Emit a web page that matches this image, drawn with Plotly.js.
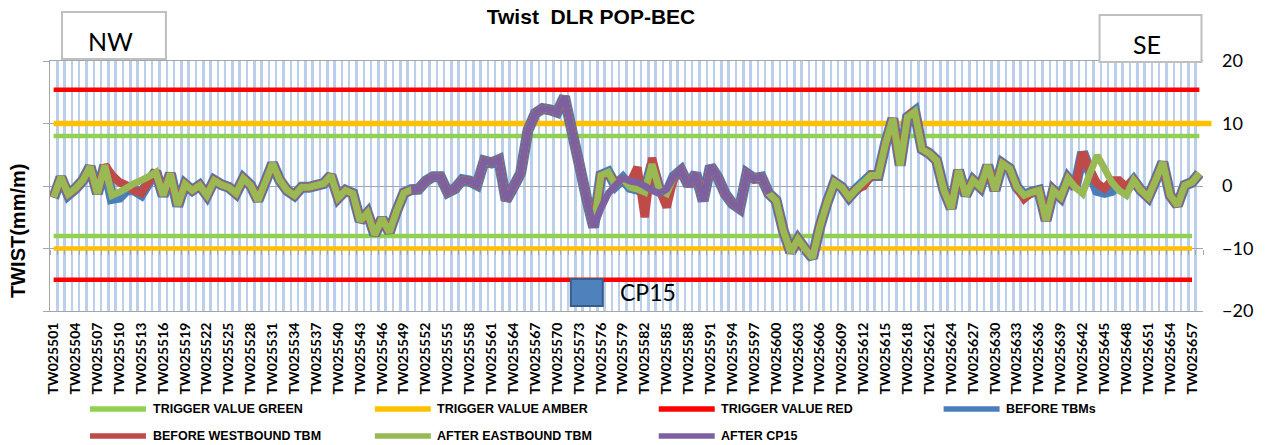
<!DOCTYPE html>
<html><head><meta charset="utf-8">
<script src="https://cdn.plot.ly/plotly-3.0.1.min.js"></script>
<style>html,body{margin:0;padding:0;background:#fff}#chart{width:1265px;height:445px}</style>
</head><body><div id="chart"></div>
<script>
const categories = [
"TW025501","TW025502","TW025503","TW025504","TW025505","TW025506","TW025507","TW025508","TW025509","TW025510",
"TW025511","TW025512","TW025513","TW025514","TW025515","TW025516","TW025517","TW025518","TW025519","TW025520",
"TW025521","TW025522","TW025523","TW025524","TW025525","TW025526","TW025527","TW025528","TW025529","TW025530",
"TW025531","TW025532","TW025533","TW025534","TW025535","TW025536","TW025537","TW025538","TW025539","TW025540",
"TW025541","TW025542","TW025543","TW025544","TW025545","TW025546","TW025547","TW025548","TW025549","TW025550",
"TW025551","TW025552","TW025553","TW025554","TW025555","TW025556","TW025557","TW025558","TW025559","TW025560",
"TW025561","TW025562","TW025563","TW025564","TW025565","TW025566","TW025567","TW025568","TW025569","TW025570",
"TW025571","TW025572","TW025573","TW025574","TW025575","TW025576","TW025577","TW025578","TW025579","TW025580",
"TW025581","TW025582","TW025583","TW025584","TW025585","TW025586","TW025587","TW025588","TW025589","TW025590",
"TW025591","TW025592","TW025593","TW025594","TW025595","TW025596","TW025597","TW025598","TW025599","TW025600",
"TW025601","TW025602","TW025603","TW025604","TW025605","TW025606","TW025607","TW025608","TW025609","TW025610",
"TW025611","TW025612","TW025613","TW025614","TW025615","TW025616","TW025617","TW025618","TW025619","TW025620",
"TW025621","TW025622","TW025623","TW025624","TW025625","TW025626","TW025627","TW025628","TW025629","TW025630",
"TW025631","TW025632","TW025633","TW025634","TW025635","TW025636","TW025637","TW025638","TW025639","TW025640",
"TW025641","TW025642","TW025643","TW025644","TW025645","TW025646","TW025647","TW025648","TW025649","TW025650",
"TW025651","TW025652","TW025653","TW025654","TW025655","TW025656","TW025657","TW025658"];

const beforeTBMs = [
-1.9,1.4,-1.4,-0.4,0.9,3.1,-1.2,3.3,-2.0,-1.8,
-0.6,-0.6,-1.3,0.6,2.3,-1.6,2.0,-3.2,0.3,-0.7,
0.1,-1.5,0.9,0.2,-0.2,-1.2,1.2,0.1,-2.3,0.6,
3.6,0.9,-0.7,-1.5,-0.2,-0.2,0.1,0.4,1.7,-1.9,
-0.7,-1.2,-5.6,-4.3,-7.8,-5.2,-7.4,-4.0,-1.1,-0.6,
-0.5,0.8,1.5,1.5,-1.0,-0.4,1.0,0.8,0.2,4.0,
3.7,4.2,-2.3,-0.2,2.1,8.9,11.6,12.4,12.2,11.8,
14.3,8.9,3.6,-1.8,-6.6,1.7,2.2,0.1,1.2,-0.2,
-0.5,-1.0,3.5,-0.5,-1.2,1.5,2.5,0.1,2.0,-2.4,
3.2,1.4,-1.2,-2.8,-3.6,2.0,1.2,1.4,-1.2,-2.3,
-7.2,-10.6,-8.5,-10.1,-11.5,-6.5,-2.6,0.6,-0.2,-1.8,
-0.5,0.6,1.7,1.7,6.8,10.8,3.3,11.0,11.9,5.9,
5.2,4.1,-0.7,-3.6,2.5,-1.5,0.9,-0.2,3.3,-0.7,
3.6,2.8,-0.2,-1.5,-1.0,-0.7,-5.5,-0.7,-1.8,1.2,
-0.2,5.4,2.3,-0.7,-1.0,-0.7,0.3,-0.5,0.9,-0.7,
-1.8,0.9,3.8,-1.5,-3.1,0.1,0.6,2.0];

const beforeWestboundTBM = [
-1.8,1.4,-1.3,-0.4,0.9,3.1,-1.2,3.3,1.7,0.6,
0.1,-0.7,-1.1,0.6,2.4,-1.5,2.0,-3.1,0.3,-0.7,
0.1,-1.5,0.9,0.2,-0.2,-1.2,1.2,0.1,-2.3,0.6,
3.6,0.9,-0.7,-1.5,-0.2,-0.2,0.1,0.4,1.7,-1.9,
-0.7,-1.2,-5.6,-4.3,-7.8,-5.2,-7.4,-4.0,-1.1,-0.6,
-0.5,0.8,1.5,1.5,-1.0,-0.4,1.0,0.8,0.2,4.0,
3.7,4.2,-2.3,-0.2,2.1,8.9,11.6,12.4,12.2,11.8,
14.3,8.9,3.6,-1.8,-6.6,1.7,2.0,0.5,1.0,0.5,
3.0,-5.0,4.5,-0.5,-3.4,1.4,2.5,0.1,2.0,-2.4,
3.2,1.4,-1.2,-2.8,-3.6,2.0,1.2,1.4,-1.2,-2.3,
-7.2,-10.6,-8.5,-10.1,-11.5,-6.5,-2.6,0.6,-0.2,-1.8,
-0.5,0.0,1.7,1.7,6.8,10.8,3.3,11.0,12.1,5.9,
5.2,4.1,-0.7,-3.6,2.5,-1.5,0.9,-0.2,3.3,-0.7,
3.6,2.8,-0.2,-2.0,-1.0,-0.7,-5.5,-0.7,-1.8,1.2,
-0.2,5.4,2.5,0.4,-0.4,0.9,0.9,-0.2,0.9,-0.7,
-1.8,0.9,3.8,-1.5,-3.1,0.1,0.6,2.0];

const afterEastboundTBM = [
-1.8,1.4,-1.3,-0.4,0.9,3.1,-1.2,3.3,-1.5,-1.0,
-0.3,0.4,0.9,1.5,2.2,-1.5,2.0,-3.1,0.3,-0.7,
0.1,-1.5,0.9,0.2,-0.2,-1.2,1.2,0.1,-2.3,0.6,
3.6,0.9,-0.7,-1.5,-0.2,-0.2,0.1,0.4,1.7,-1.9,
-0.7,-1.2,-5.6,-4.3,-7.8,-5.2,-7.4,-4.0,-1.1,-0.6,
-0.5,0.8,1.5,1.5,-1.0,-0.4,1.0,0.8,0.2,4.0,
3.7,4.2,-2.3,-0.2,2.1,8.9,11.6,12.4,12.2,11.8,
14.3,8.9,3.6,-1.8,-6.6,1.7,2.2,0.1,1.2,-0.2,
-0.5,-1.0,3.5,-0.5,-1.2,1.5,2.5,0.1,2.0,-2.4,
3.2,1.4,-1.2,-2.8,-3.6,2.0,1.2,1.4,-1.2,-2.3,
-7.2,-10.6,-8.5,-10.1,-11.5,-6.5,-2.6,0.6,-0.2,-1.8,
-0.5,0.6,1.7,1.7,6.8,10.8,3.3,11.0,11.9,5.9,
5.2,4.1,-0.7,-3.6,2.5,-1.5,0.9,-0.2,3.3,-0.7,
3.6,2.8,-0.2,-1.5,-1.0,-0.7,-5.5,-0.7,-1.8,1.2,
-0.2,-1.2,2.0,4.9,2.8,0.6,-0.7,-1.5,0.9,-0.7,
-1.8,0.9,3.8,-1.5,-3.1,0.1,0.6,2.0];

const afterCP15 = [
null,null,null,null,null,null,null,null,null,null,
null,null,null,null,null,null,null,null,null,null,
null,null,null,null,null,null,null,null,null,null,
null,null,null,null,null,null,null,null,null,null,
null,null,null,null,null,null,null,null,null,-0.6,
-0.5,0.8,1.5,1.5,-1.0,-0.4,1.0,0.8,0.2,4.0,
3.7,4.2,-2.3,-0.2,2.1,8.9,11.6,12.4,12.2,11.8,
14.3,8.9,3.6,-1.8,-6.6,-3.6,-1.2,0.1,1.3,0.8,
0.6,0.0,-0.7,-1.2,-0.5,1.5,2.5,0.1,2.0,-2.4,
3.2,1.4,-1.2,-2.8,-3.6,2.0,1.2,1.4,-1.2,null,
null,null,null,null,null,null,null,null,null,null,
null,null,null,null,null,null,null,null,null,null,
null,null,null,null,null,null,null,null,null,null,
null,null,null,null,null,null,null,null,null,null,
null,null,null,null,null,null,null,null,null,null,
null,null,null,null,null,null,null,null];

const triggerGreen = {upper: 8, lower: -8};
const triggerAmber = {upper: 10, lower: -10};
const triggerRed = {upper: 15.4, lower: -15};
const yTicks = [-20, -10, 0, 10, 20];

const C = {green:'#92d050', amber:'#ffc000', red:'#ff0000', blue:'#4a7ebb',
           brown:'#be4b48', olive:'#98b954', purple:'#7d60a0'};

const idx = categories.map((c, i) => i);
const last = categories.length - 1;
const tickIdx = idx.filter(i => i % 3 === 0);
const tickText = tickIdx.map(i => categories[i]);
const bounds = categories.map((c, i) => i - 0.5).concat([last + 0.5]);

function thr(v, endIdx, color, width) {
  return {x: [0, endIdx], y: [v, v], mode: 'lines', xaxis: 'x', yaxis: 'y',
          line: {color: color, width: width}, hoverinfo: 'skip', showlegend: false};
}
function series(vals, color, width) {
  return {x: idx, y: vals, mode: 'lines', xaxis: 'x2', yaxis: 'y2',
          line: {color: color, width: width, simplify: false}, connectgaps: false,
          hoverinfo: 'skip', showlegend: false};
}

const traces = [
  thr(triggerRed.upper, last, C.red, 4.5),
  thr(triggerAmber.upper, last, C.amber, 5.5),
  thr(triggerGreen.upper, last, C.green, 4.5),
  thr(triggerGreen.lower, last - 1, C.green, 4.5),
  thr(triggerAmber.lower, last - 1, C.amber, 4.5),
  thr(triggerRed.lower, last - 1, C.red, 4.5),
  series(beforeTBMs, C.blue, 11),
  series(beforeWestboundTBM, C.brown, 8.5),
  series(afterEastboundTBM, C.olive, 7),
  series(afterCP15, C.purple, 7)
];

// pixel helpers for decoration placement (plot area 50..1203.5 x 61..311)
const P = px => (px - 50) / 1153.5;
const Q = py => (311 - py) / 250;

const legendItems = [
  {name: 'TRIGGER VALUE GREEN', color: C.green, lx: 90, tx: 151, row: 409},
  {name: 'TRIGGER VALUE AMBER', color: C.amber, lx: 375, tx: 435, row: 409},
  {name: 'TRIGGER VALUE RED', color: C.red, lx: 659, tx: 719, row: 409},
  {name: 'BEFORE TBMs', color: C.blue, lx: 944, tx: 1004, row: 409},
  {name: 'BEFORE WESTBOUND TBM', color: C.brown, lx: 90, tx: 151, row: 436},
  {name: 'AFTER EASTBOUND TBM', color: C.olive, lx: 375, tx: 435, row: 436},
  {name: 'AFTER CP15', color: C.purple, lx: 659, tx: 719, row: 436}
];

const shapes = [
  {type:'line', xref:'paper', yref:'y', x0:P(1198), x1:P(1212), y0:triggerAmber.upper, y1:triggerAmber.upper,
   line:{color:C.amber, width:5.5}, layer:'above'},
  {type:'rect', xref:'paper', yref:'paper', x0:P(62), x1:P(166), y0:Q(59), y1:Q(12),
   line:{color:'#bfbfbf', width:2}, fillcolor:'#ffffff', layer:'above'},
  {type:'rect', xref:'paper', yref:'paper', x0:P(1100), x1:P(1202), y0:Q(62), y1:Q(15),
   line:{color:'#bfbfbf', width:2}, fillcolor:'#ffffff', layer:'above'},
  {type:'rect', xref:'paper', yref:'paper', x0:P(571), x1:P(603), y0:Q(306), y1:Q(279),
   line:{color:'#385d8a', width:2}, fillcolor:'#4f81bd', layer:'above'}
];
legendItems.forEach(it => shapes.push({type:'line', xref:'paper', yref:'paper',
  x0:P(it.lx), x1:P(it.lx + 56), y0:Q(it.row), y1:Q(it.row),
  line:{color:it.color, width:5.5}, layer:'above'}));

const legendFont = {family:'Liberation Sans, Arial, sans-serif', size:12.5, color:'#000', weight:'bold'};
const annotations = [
  {text:'TWIST(mm/m)', xref:'paper', yref:'paper', x:P(18), y:Q(231), xanchor:'center', yanchor:'middle',
   textangle:-90, showarrow:false, font:{family:'Liberation Sans, Arial, sans-serif', size:20, color:'#000', weight:'bold'}},
  {text:'NW', xref:'paper', yref:'paper', x:P(111), y:Q(41), xanchor:'center', yanchor:'middle', showarrow:false,
   font:{family:'Lato, Open Sans, sans-serif', size:25, color:'#000'}},
  {text:'SE', xref:'paper', yref:'paper', x:P(1147), y:Q(44), xanchor:'center', yanchor:'middle', showarrow:false,
   font:{family:'Lato, Open Sans, sans-serif', size:25, color:'#000'}},
  {text:'CP15', xref:'paper', yref:'paper', x:P(618), y:Q(292), xanchor:'left', yanchor:'middle', showarrow:false,
   font:{family:'Lato, Open Sans, sans-serif', size:23, color:'#000'}}
];
legendItems.forEach(it => annotations.push({text:it.name, xref:'paper', yref:'paper',
  x:P(it.tx), y:Q(it.row), xanchor:'left', yanchor:'middle', showarrow:false, font:legendFont}));

const range = [-0.5, last + 0.5];
const layout = {
  width:1265, height:445,
  margin:{l:50, r:61.5, t:61, b:134, pad:0},
  paper_bgcolor:'#ffffff', plot_bgcolor:'#ffffff',
  showlegend:false,
  title:{text:'Twist\u00a0 DLR POP-BEC', x:591/1265, xref:'container', xanchor:'center',
         y:1 - 17/445, yref:'container', yanchor:'middle',
         font:{family:'Liberation Sans, Arial, sans-serif', size:21, color:'#000', weight:'bold'}},
  xaxis:{range:range, tickmode:'array', tickvals:tickIdx, ticktext:tickText, tickangle:-90,
         tickfont:{family:'Lato, Open Sans, sans-serif', size:14, color:'#000', weight:'bold'},
         showgrid:false, zeroline:false, ticks:'', ticklabelstandoff:5,
         minor:{tickmode:'array', tickvals:bounds, showgrid:true, gridcolor:'#bccfea', gridwidth:2.5, ticks:''},
         showline:true, linecolor:'#a6a6a6', linewidth:1, mirror:true, fixedrange:true},
  yaxis:{range:[-20,20], tickmode:'array', tickvals:yTicks, showgrid:true, gridcolor:'#a6a6a6', gridwidth:1,
         zeroline:false, showline:true, linecolor:'#a6a6a6', linewidth:1, ticks:'outside', ticklen:6,
         tickcolor:'#a6a6a6', showticklabels:false, fixedrange:true},
  xaxis2:{overlaying:'x', anchor:'free', position:0.25, range:range, tickmode:'array', tickvals:bounds,
          ticks:'outside', ticklen:5, tickcolor:'#a6a6a6', tickwidth:1, showticklabels:false,
          showgrid:false, showline:false, zeroline:false, fixedrange:true},
  yaxis2:{overlaying:'y', side:'right', anchor:'free', position:1, range:[-20,20], tickmode:'array', tickvals:yTicks,
          showgrid:false, zeroline:false, showline:false, ticks:'', ticklabelstandoff:18,
          tickfont:{family:'Lato, Open Sans, sans-serif', size:18, color:'#000'}, fixedrange:true},
  shapes:shapes,
  annotations:annotations
};

Plotly.newPlot('chart', traces, layout, {displayModeBar:false, staticPlot:true});
</script></body></html>
